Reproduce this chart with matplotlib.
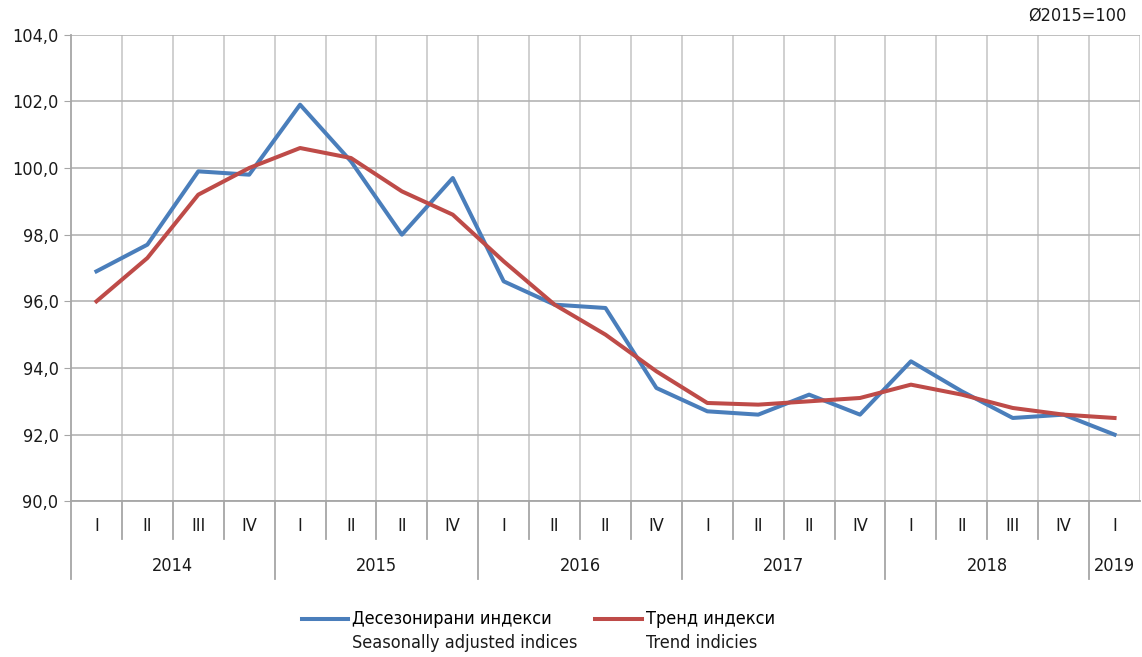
import numpy as np
import matplotlib
matplotlib.use('Agg')
import matplotlib.pyplot as plt
from matplotlib.lines import Line2D
from matplotlib.ticker import FuncFormatter
from matplotlib import font_manager

quarters = ['I', 'II', 'III', 'IV', 'I', 'II', 'II', 'IV', 'I', 'II', 'II', 'IV',
            'I', 'II', 'II', 'IV', 'I', 'II', 'III', 'IV', 'I']
years = ['2014', '2015', '2016', '2017', '2018', '2019']
year_counts = [4, 4, 4, 4, 4, 1]

seasonal = [96.9, 97.7, 99.9, 99.8, 101.9, 100.2, 98.0, 99.7, 96.6, 95.9, 95.8, 93.4,
            92.7, 92.6, 93.2, 92.6, 94.2, 93.3, 92.5, 92.6, 92.0]
trend = [96.0, 97.3, 99.2, 100.0, 100.6, 100.3, 99.3, 98.6, 97.2, 95.9, 95.0, 93.9,
         92.95, 92.9, 93.0, 93.1, 93.5, 93.2, 92.8, 92.6, 92.5]

# pick a narrow font if one is available
fonts = font_manager.fontManager.ttflist
names = {f.name for f in fonts}
stretch = 'normal'
if 'Liberation Sans Narrow' in names:
    fam = 'Liberation Sans Narrow'
elif any(f.name == 'DejaVu Sans' and 'condensed' in str(f.stretch) for f in fonts):
    fam = 'DejaVu Sans'
    stretch = 'condensed'
elif 'Roboto Condensed' in names:
    fam = 'Roboto Condensed'
else:
    fam = 'Roboto'
plt.rcParams['font.family'] = [fam, 'DejaVu Sans']
plt.rcParams['font.stretch'] = stretch
fs = 15 if fam == 'Liberation Sans Narrow' else 13

blue = '#4a7ebb'
red = '#be4b48'
grid_c = '#c8c8c8'
axis_c = '#a6a6a6'
txt = '#1a1a1a'

fig = plt.figure(figsize=(11.42, 6.57), dpi=100)
ax = fig.add_axes([71/1142, 1 - 501.3/657, (1140 - 71)/1142, 466.6/657])

x = np.arange(len(quarters))
ax.plot(x, seasonal, color=blue, lw=2.9, zorder=3)
ax.plot(x, trend, color=red, lw=2.9, zorder=3)

ax.set_xlim(-0.5, len(quarters) - 0.5)
ax.set_ylim(90, 104)
ax.set_yticks(np.arange(90, 104.1, 2))
ax.yaxis.set_major_formatter(FuncFormatter(lambda v, p: f'{v:.1f}'.replace('.', ',')))
ax.tick_params(axis='y', length=5, color=axis_c, labelsize=fs, pad=4, labelcolor=txt)
ax.set_xticks([])
for s in ['top', 'right']:
    ax.spines[s].set_visible(False)
for s in ['left', 'bottom']:
    ax.spines[s].set_color(axis_c)
    ax.spines[s].set_linewidth(1.3)

ax.grid(axis='y', color='#b4b4b4', lw=1.2, zorder=0)
for b in np.arange(0.5, len(quarters), 1):
    ax.axvline(b, color=grid_c, lw=1.2, zorder=0)

# category axis: quarters and years
trans = ax.get_xaxis_transform()
bounds = np.cumsum(year_counts)[:-1] - 0.5
for i, q in enumerate(quarters):
    ax.text(i, -0.052, q, transform=trans, ha='center', va='center', fontsize=fs, color=txt)
for b in np.arange(0.5, len(quarters) - 1, 1):
    low = -0.167 if b in bounds else -0.0814
    ax.plot([b, b], [0, low], transform=trans, color=axis_c, lw=1.3, clip_on=False)
ax.plot([-0.5, -0.5], [0, -0.167], transform=trans, color=axis_c, lw=1.3, clip_on=False)
start = 0
for yr, n in zip(years, year_counts):
    ax.text(start + (n - 1) / 2, -0.139, yr, transform=trans, ha='center', va='center',
            fontsize=fs, color=txt)
    start += n

fig.text(1127/1142, 1 - 16/657, 'Ø2015=100', ha='right', va='center', fontsize=fs, color=txt)

# legend
ly = 1 - 619/657
ly2 = 1 - 643/657
for x0, x1, c, l1, l2 in [(302, 348, blue, 'Десезонирани индекси', 'Seasonally adjusted indices'),
                          (595, 642, red, 'Тренд индекси', 'Trend indicies')]:
    fig.add_artist(Line2D([x0/1142, x1/1142], [ly, ly], color=c, lw=2.9))
    fig.text((x1 + 4)/1142, ly, l1, ha='left', va='center', fontsize=fs, color='#000000')
    fig.text((x1 + 4)/1142, ly2, l2, ha='left', va='center', fontsize=fs, color=txt)

fig.savefig('out.png', dpi=100)
